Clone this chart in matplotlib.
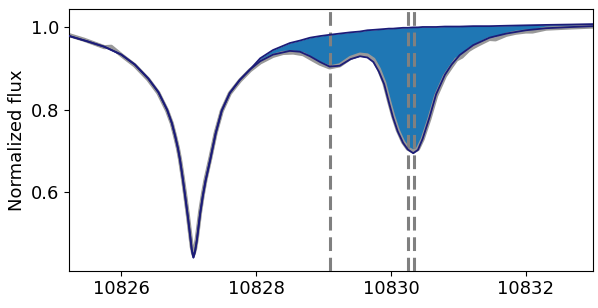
import numpy as np
import matplotlib
matplotlib.use("Agg")
import matplotlib.pyplot as plt

# model fit (Si I + He I)
model_wave = [10825.23, 10825.50, 10825.75, 10826.00, 10826.20, 10826.40, 10826.55,
              10826.68, 10826.75, 10826.80, 10826.84, 10826.87, 10826.91, 10826.95,
              10826.99, 10827.02, 10827.045, 10827.07, 10827.095, 10827.12, 10827.145,
              10827.17, 10827.21, 10827.25, 10827.32, 10827.40, 10827.49, 10827.61,
              10827.76, 10827.91, 10828.06, 10828.25, 10828.50, 10828.65, 10828.80,
              10828.95, 10829.09, 10829.24, 10829.40, 10829.54, 10829.65, 10829.74,
              10829.82, 10829.90, 10829.97, 10830.03, 10830.10, 10830.18, 10830.25,
              10830.33, 10830.40, 10830.47, 10830.57, 10830.67, 10830.80, 10830.90,
              10831.02, 10831.22, 10831.46, 10831.71, 10832.00, 10832.30, 10832.69,
              10833.00]
model_flux = [0.979, 0.966, 0.953, 0.934, 0.910, 0.876, 0.843,
              0.800, 0.768, 0.736, 0.707, 0.680, 0.636, 0.588,
              0.538, 0.497, 0.462, 0.442, 0.458, 0.483, 0.516,
              0.549, 0.592, 0.628, 0.680, 0.743, 0.798, 0.841,
              0.873, 0.898, 0.918, 0.934, 0.943, 0.941, 0.930,
              0.916, 0.905, 0.907, 0.923, 0.930, 0.927, 0.916,
              0.893, 0.862, 0.818, 0.782, 0.748, 0.720, 0.704,
              0.695, 0.703, 0.730, 0.781, 0.838, 0.885, 0.910,
              0.933, 0.957, 0.975, 0.985, 0.993, 0.998, 1.001,
              1.003]

# model without He (same wavelength grid)
cont_flux = [0.979, 0.966, 0.953, 0.934, 0.910, 0.876, 0.843,
             0.800, 0.768, 0.736, 0.707, 0.680, 0.636, 0.588,
             0.538, 0.497, 0.462, 0.442, 0.458, 0.483, 0.516,
             0.549, 0.592, 0.628, 0.680, 0.743, 0.798, 0.841,
             0.873, 0.898, 0.925, 0.945, 0.962, 0.968, 0.975,
             0.979, 0.982, 0.985, 0.988, 0.990, 0.993, 0.994,
             0.995, 0.996, 0.997, 0.997, 0.998, 0.999, 0.999,
             1.000, 1.000, 1.001, 1.001, 1.001, 1.002, 1.002,
             1.002, 1.003, 1.003, 1.004, 1.005, 1.006, 1.007,
             1.008]

# observed spectrum
obs_wave = [10825.23, 10825.45, 10825.65, 10825.75, 10825.85, 10826.00, 10826.20,
            10826.40, 10826.55, 10826.68, 10826.75, 10826.80, 10826.84, 10826.87,
            10826.91, 10826.95, 10826.99, 10827.02, 10827.045, 10827.07, 10827.095,
            10827.12, 10827.145, 10827.17, 10827.21, 10827.25, 10827.32, 10827.40,
            10827.49, 10827.61, 10827.76, 10827.91, 10828.06, 10828.25, 10828.40,
            10828.55, 10828.70, 10828.85, 10828.95, 10829.09, 10829.24, 10829.40,
            10829.54, 10829.65, 10829.74, 10829.82, 10829.90, 10829.97, 10830.03,
            10830.10, 10830.18, 10830.25, 10830.33, 10830.40, 10830.47, 10830.57,
            10830.67, 10830.80, 10830.90, 10830.97, 10831.05, 10831.15, 10831.22,
            10831.30, 10831.46, 10831.55, 10831.71, 10831.85, 10832.00, 10832.10,
            10832.30, 10832.69, 10833.00]
obs_flux = [0.981, 0.970, 0.958, 0.952, 0.953, 0.933, 0.908,
            0.874, 0.841, 0.798, 0.767, 0.735, 0.707, 0.681,
            0.638, 0.591, 0.541, 0.501, 0.468, 0.449, 0.463,
            0.488, 0.520, 0.553, 0.595, 0.631, 0.682, 0.744,
            0.797, 0.840, 0.871, 0.896, 0.915, 0.931, 0.938,
            0.939, 0.935, 0.921, 0.912, 0.903, 0.908, 0.926,
            0.934, 0.932, 0.922, 0.899, 0.866, 0.822, 0.786,
            0.751, 0.722, 0.706, 0.699, 0.705, 0.729, 0.778,
            0.834, 0.882, 0.906, 0.922, 0.929, 0.945, 0.952,
            0.959, 0.972, 0.971, 0.982, 0.987, 0.990, 0.990,
            0.997, 1.000, 1.002]

he_lines = [10829.09, 10830.25, 10830.34]

model_wave = np.array(model_wave)
model_flux = np.array(model_flux)
cont_flux = np.array(cont_flux)

fig = plt.figure(figsize=(5.98, 3.08), dpi=100)
ax = fig.add_axes([0.116, 0.121, 0.876, 0.849])

ax.fill_between(model_wave, model_flux, cont_flux, color="#1f77b4", lw=0, zorder=1)
ax.plot(obs_wave, obs_flux, color="0.6", lw=3.0, zorder=2)
for w in he_lines:
    ax.axvline(w, color="0.5", lw=2.2, ls=(0, (4.5, 2.2)), zorder=3)
ax.plot(model_wave, cont_flux, color="#1c1c78", lw=1.3, zorder=4)
ax.plot(model_wave, model_flux, color="#1c1c78", lw=1.3, zorder=4)

ax.set_xlim(10825.23, 10833.0)
ax.set_ylim(0.41, 1.044)
ax.set_xticks([10826, 10828, 10830, 10832])
ax.set_yticks([0.6, 0.8, 1.0])
ax.tick_params(labelsize=13)
ax.set_ylabel("Normalized flux", fontsize=13)

fig.savefig("out.png", dpi=100)
